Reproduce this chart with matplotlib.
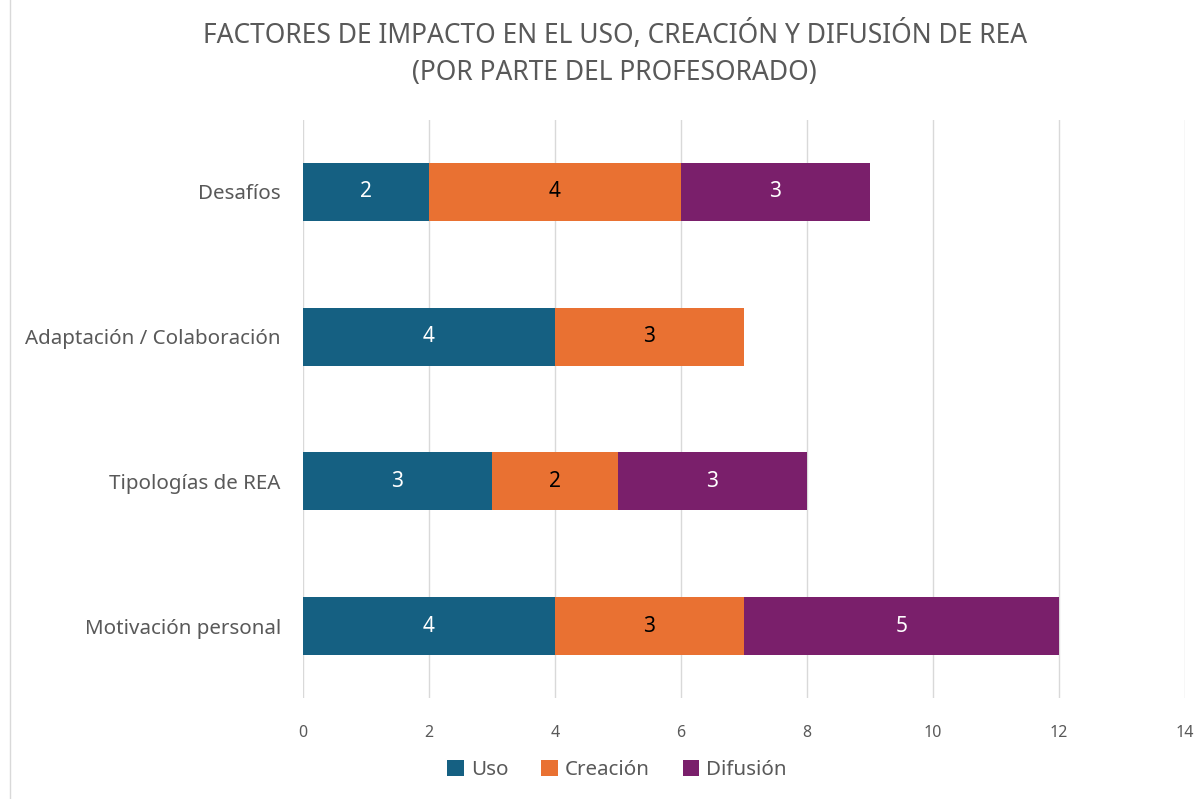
import matplotlib.pyplot as plt
from matplotlib.lines import Line2D

# data (bottom to top)
categories = ['Motivación personal', 'Tipologías de REA', 'Adaptación / Colaboración', 'Desafíos']
uso = [4, 3, 4, 2]
creacion = [3, 2, 3, 4]
difusion = [5, 3, 0, 3]

series = ['Uso', 'Creación', 'Difusión']
colors = ['#156082', '#E97132', '#7A1F6B']
label_colors = ['white', 'black', 'white']

plt.rcParams['font.family'] = ['Noto Sans', 'DejaVu Sans']
grey = '#595959'

fig = plt.figure(figsize=(11.98, 7.99), dpi=100)
ax = fig.add_axes([0.2529, 0.1258, 0.7362, 0.7246])

y = range(len(categories))
left = [0] * len(categories)
for name, vals, col, lc in zip(series, [uso, creacion, difusion], colors, label_colors):
    bars = ax.barh(y, vals, left=left, height=0.4, color=col, label=name, zorder=3)
    labels = [str(v) if v else '' for v in vals]
    ax.bar_label(bars, labels=labels, label_type='center', color=lc, fontsize=15)
    left = [l + v for l, v in zip(left, vals)]

ax.set_xlim(0, 14)
ax.set_ylim(-0.5, 3.5)
ax.set_xticks(range(0, 15, 2))
ax.set_yticks(list(y))
ax.set_yticklabels(categories, fontsize=14.8, color=grey)
ax.tick_params(axis='x', length=0, labelsize=11.5, labelcolor=grey, pad=19)
ax.tick_params(axis='y', length=0, pad=16)
ax.grid(axis='x', color='#d9d9d9', linewidth=1, zorder=0)
for s in ax.spines.values():
    s.set_visible(False)

fig.suptitle('FACTORES DE IMPACTO EN EL USO, CREACIÓN Y DIFUSIÓN DE REA\n(POR PARTE DEL PROFESORADO)',
             x=0.513, y=0.975, fontsize=19, color=grey, linespacing=1.45)

fig.legend(loc='center', bbox_to_anchor=(0.515, 0.036), ncol=3, frameon=False,
           fontsize=14.8, labelcolor=grey, handlelength=0.8, handleheight=0.8,
           handletextpad=0.35, columnspacing=1.6)

# chart frame edge on the left
fig.add_artist(Line2D([10 / 1198, 10 / 1198], [0, 1], color='#d9d9d9', linewidth=1))

fig.savefig('out.png', dpi=100, facecolor='white')
